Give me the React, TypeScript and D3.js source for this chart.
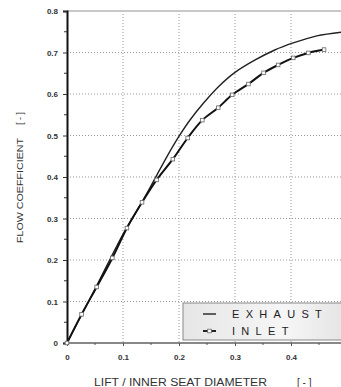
import * as d3 from "d3";
import { useEffect, useRef } from "react";

// valeurs
const inletLift = [0, 0.026, 0.053, 0.081, 0.107, 0.134, 0.16, 0.189, 0.2155, 0.2416, 0.27, 0.295, 0.324, 0.351, 0.377, 0.404, 0.431, 0.459];
const inletFlow = [0, 0.069, 0.135, 0.205, 0.277, 0.339, 0.393, 0.443, 0.494, 0.537, 0.567, 0.598, 0.624, 0.651, 0.67, 0.687, 0.699, 0.707];
const exhaustLift = [0, 0.05, 0.1, 0.136, 0.157, 0.178, 0.199, 0.22, 0.245, 0.27, 0.3, 0.336, 0.371, 0.404, 0.446, 0.49];
const exhaustFlow = [0, 0.13, 0.262, 0.344, 0.396, 0.448, 0.496, 0.538, 0.58, 0.617, 0.652, 0.682, 0.706, 0.723, 0.74, 0.749];
const xTicks = [0, 0.1, 0.2, 0.3, 0.4, 0.5];
const yTicks = [0, 0.1, 0.2, 0.3, 0.4, 0.5, 0.6, 0.7, 0.8];
const seriesNames = ["EXHAUST", "INLET"];

const W = 341;
const H = 387;

const App = () => {
	const svgRef = useRef<SVGSVGElement>(null);

	useEffect(() => {
		if (!svgRef.current) return;
		const svg = d3.select(svgRef.current);
		svg.selectAll("*").remove();

		const x = d3.scaleLinear().domain([0, 0.5]).range([67, 347]);
		const y = d3.scaleLinear().domain([0, 0.8]).range([343, 11]);
		const font = "'Liberation Sans', Arial, sans-serif";

		// grille pointillée
		svg.append("g")
			.selectAll("line")
			.data(xTicks.slice(1))
			.enter()
			.append("line")
			.attr("x1", (d) => x(d)).attr("x2", (d) => x(d))
			.attr("y1", y(0.8)).attr("y2", y(0))
			.attr("stroke", "#999").attr("stroke-width", 1).attr("stroke-dasharray", "1,2");
		svg.append("g")
			.selectAll("line")
			.data(yTicks.slice(1, -1))
			.enter()
			.append("line")
			.attr("x1", x(0)).attr("x2", W)
			.attr("y1", (d) => y(d)).attr("y2", (d) => y(d))
			.attr("stroke", "#999").attr("stroke-width", 1).attr("stroke-dasharray", "1,2");

		// cadre
		svg.append("line")
			.attr("x1", x(0)).attr("x2", W).attr("y1", y(0.8)).attr("y2", y(0.8))
			.attr("stroke", "#c8c8c8").attr("stroke-width", 2);
		svg.append("line")
			.attr("x1", x(0)).attr("x2", W).attr("y1", y(0)).attr("y2", y(0))
			.attr("stroke", "#888").attr("stroke-width", 2);

		// axe y
		const yAxis = svg.append("g")
			.attr("transform", `translate(${x(0)},0)`)
			.call(d3.axisLeft(y).tickValues(yTicks).tickSize(4).tickPadding(5).tickFormat((d) => (+d === 0 ? "0" : d3.format(".1f")(+d))));
		yAxis.select(".domain").attr("stroke", "#111").attr("stroke-width", 2);
		yAxis.selectAll(".tick line").attr("stroke", "#333");
		yAxis.selectAll(".tick text")
			.attr("font-family", font).attr("font-size", 8).attr("font-weight", "bold").attr("fill", "#333");
		svg.append("g")
			.selectAll("line")
			.data(d3.range(0.05, 0.8, 0.1))
			.enter()
			.append("line")
			.attr("x1", x(0) - 3).attr("x2", x(0))
			.attr("y1", (d) => y(d)).attr("y2", (d) => y(d))
			.attr("stroke", "#333");

		// axe x
		const xAxis = svg.append("g")
			.attr("transform", `translate(0,${y(0)})`)
			.call(d3.axisBottom(x).tickValues(xTicks).tickSize(3).tickPadding(8).tickFormat((d) => (+d === 0 ? "0" : d3.format(".1f")(+d))));
		xAxis.select(".domain").remove();
		xAxis.selectAll(".tick line").attr("stroke", "#555");
		xAxis.selectAll(".tick text")
			.attr("font-family", font).attr("font-size", 8).attr("font-weight", "bold").attr("fill", "#333");
		svg.append("g")
			.selectAll("line")
			.data(d3.range(0.05, 0.5, 0.1))
			.enter()
			.append("line")
			.attr("x1", (d) => x(d)).attr("x2", (d) => x(d))
			.attr("y1", y(0)).attr("y2", y(0) + 2)
			.attr("stroke", "#555");

		// titres des axes
		svg.append("text")
			.attr("transform", "translate(23,243) rotate(-90)")
			.attr("font-family", font).attr("font-size", 9).attr("fill", "#333")
			.attr("textLength", 105).attr("lengthAdjust", "spacingAndGlyphs")
			.text("FLOW  COEFFICIENT");
		svg.append("text")
			.attr("transform", "translate(23,125) rotate(-90)")
			.attr("font-family", font).attr("font-size", 9).attr("fill", "#333")
			.text("[ - ]");
		svg.append("text")
			.attr("x", 94).attr("y", 386)
			.attr("font-family", font).attr("font-size", 10).attr("fill", "#333")
			.attr("textLength", 173).attr("lengthAdjust", "spacingAndGlyphs")
			.text("LIFT / INNER  SEAT  DIAMETER");
		svg.append("text")
			.attr("x", 297).attr("y", 386)
			.attr("font-family", font).attr("font-size", 10).attr("fill", "#333")
			.text("[ - ]");

		// courbes
		const line = d3.line<[number, number]>()
			.x((d) => x(d[0]))
			.y((d) => y(d[1]))
			.curve(d3.curveCatmullRom.alpha(0.5));
		const exhaust = exhaustLift.map((v, i) => [v, exhaustFlow[i]] as [number, number]);
		const inlet = inletLift.map((v, i) => [v, inletFlow[i]] as [number, number]);

		svg.append("path")
			.attr("d", line(exhaust))
			.attr("fill", "none").attr("stroke", "#222").attr("stroke-width", 1.4);
		svg.append("path")
			.attr("d", line(inlet))
			.attr("fill", "none").attr("stroke", "#111").attr("stroke-width", 2);
		svg.append("g")
			.selectAll("rect")
			.data(inlet)
			.enter()
			.append("rect")
			.attr("x", (d) => x(d[0]) - 1.8).attr("y", (d) => y(d[1]) - 1.8)
			.attr("width", 3.6).attr("height", 3.6)
			.attr("fill", "#fff").attr("stroke", "#666").attr("stroke-width", 0.8);

		// légende
		const defs = svg.append("defs");
		const grad = defs.append("linearGradient").attr("id", "legGrad").attr("x1", 0).attr("x2", 1).attr("y1", 0).attr("y2", 0);
		grad.append("stop").attr("offset", "0%").attr("stop-color", "#e6e6e6");
		grad.append("stop").attr("offset", "60%").attr("stop-color", "#f6f6f6");
		grad.append("stop").attr("offset", "100%").attr("stop-color", "#e2e2e2");
		svg.append("rect")
			.attr("x", 183).attr("y", 303).attr("width", 170).attr("height", 37)
			.attr("fill", "url(#legGrad)").attr("stroke", "#888").attr("stroke-width", 1);

		seriesNames.forEach((name, i) => {
			const ly = 314 + i * 17;
			svg.append("line")
				.attr("x1", 203).attr("x2", 216).attr("y1", ly).attr("y2", ly)
				.attr("stroke", "#222").attr("stroke-width", i === 0 ? 1.4 : 2);
			if (i === 1) {
				svg.append("rect")
					.attr("x", 207.7).attr("y", ly - 1.8).attr("width", 3.6).attr("height", 3.6)
					.attr("fill", "#fff").attr("stroke", "#666").attr("stroke-width", 0.8);
			}
			svg.append("text")
				.attr("x", 232).attr("y", ly + 4)
				.attr("font-family", font).attr("font-size", 11).attr("fill", "#222")
				.attr("letter-spacing", 6.3)
				.text(name);
		});
	}, []);

	return (
		<svg
			ref={svgRef}
			width={W}
			height={H}
			style={{ position: "absolute", left: 0, top: 0, background: "#fff" }}
		></svg>
	);
};

export default App;
